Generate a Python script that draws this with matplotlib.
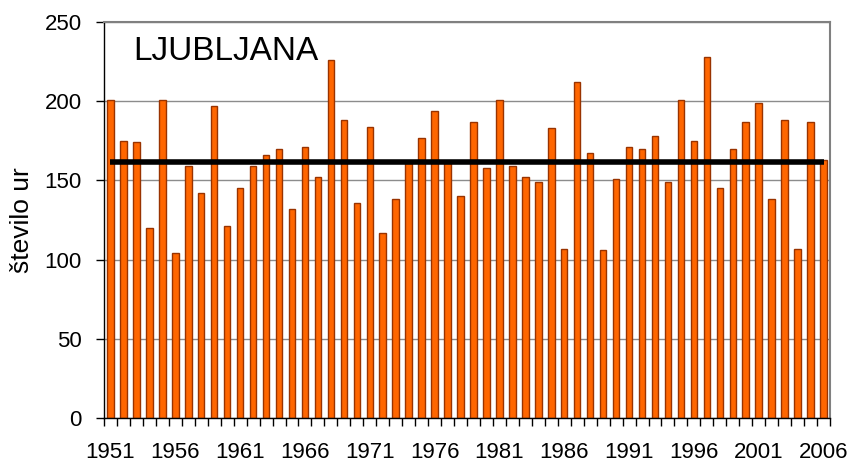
import matplotlib
matplotlib.use("Agg")
import matplotlib.pyplot as plt
import numpy as np

plt.rcParams['font.family'] = ['Liberation Sans', 'DejaVu Sans']

# Data: annual number of hours (Ljubljana), 1951-2006
years = list(range(1951, 2007))
hours = [201, 175, 174, 120, 201, 104, 159, 142, 197, 121,
         145, 159, 166, 170, 132, 171, 152, 226, 188, 136,
         184, 117, 138, 161, 177, 194, 161, 140, 187, 158,
         201, 159, 152, 149, 183, 107, 212, 167, 106, 151,
         171, 170, 178, 149, 201, 175, 228, 145, 170, 187,
         199, 138, 188, 107, 187, 163]
label_years = [1951, 1956, 1961, 1966, 1971, 1976, 1981, 1986, 1991, 1996, 2001, 2006]

# reference period mean 1961-1990
ref = [h for y, h in zip(years, hours) if 1961 <= y <= 1990]
mean_ref = np.mean(ref)

fig = plt.figure(figsize=(8.48, 4.61), dpi=100)
ax = fig.add_axes([104/848, 1 - 418/461, 726/848, 396/461])

x = np.arange(len(years))
ax.bar(x, hours, width=0.5, color='#FF6600', edgecolor='#993300', linewidth=1.0, zorder=2)
ax.plot(x, [mean_ref]*len(x), color='black', linewidth=4, solid_capstyle='butt', zorder=3)

# Axes
ax.set_xlim(-0.5, len(years) - 0.5)
ax.set_ylim(0, 250)
ax.set_yticks(range(0, 251, 50))
ax.yaxis.grid(True, color='#8c8c8c', linewidth=1.0, zorder=0)
ax.set_axisbelow(True)

# x ticks: marks on category boundaries, labels every 5 years
ax.set_xticks([years.index(y) for y in label_years])
ax.set_xticklabels([str(y) for y in label_years])
ax.set_xticks(np.arange(-0.5, len(years), 1.0), minor=True)
ax.tick_params(axis='x', which='major', length=0, pad=17, labelsize=16)
ax.tick_params(axis='x', which='minor', length=6, width=1, direction='out')
ax.tick_params(axis='y', length=6, width=1, direction='out', pad=10, labelsize=16)

for s in ['top', 'right']:
    ax.spines[s].set_color('#808080')
    ax.spines[s].set_linewidth(1.5)
for s in ['left', 'bottom']:
    ax.spines[s].set_color('black')
    ax.spines[s].set_linewidth(1.0)

ax.set_ylabel("število ur", fontsize=19, va='center')
ax.yaxis.set_label_coords(-0.113, 0.5)

ax.text(0.040, 0.904, "LJUBLJANA", transform=ax.transAxes, fontsize=24,
        ha='left', va='baseline')

plt.savefig("out.png", dpi=100)
